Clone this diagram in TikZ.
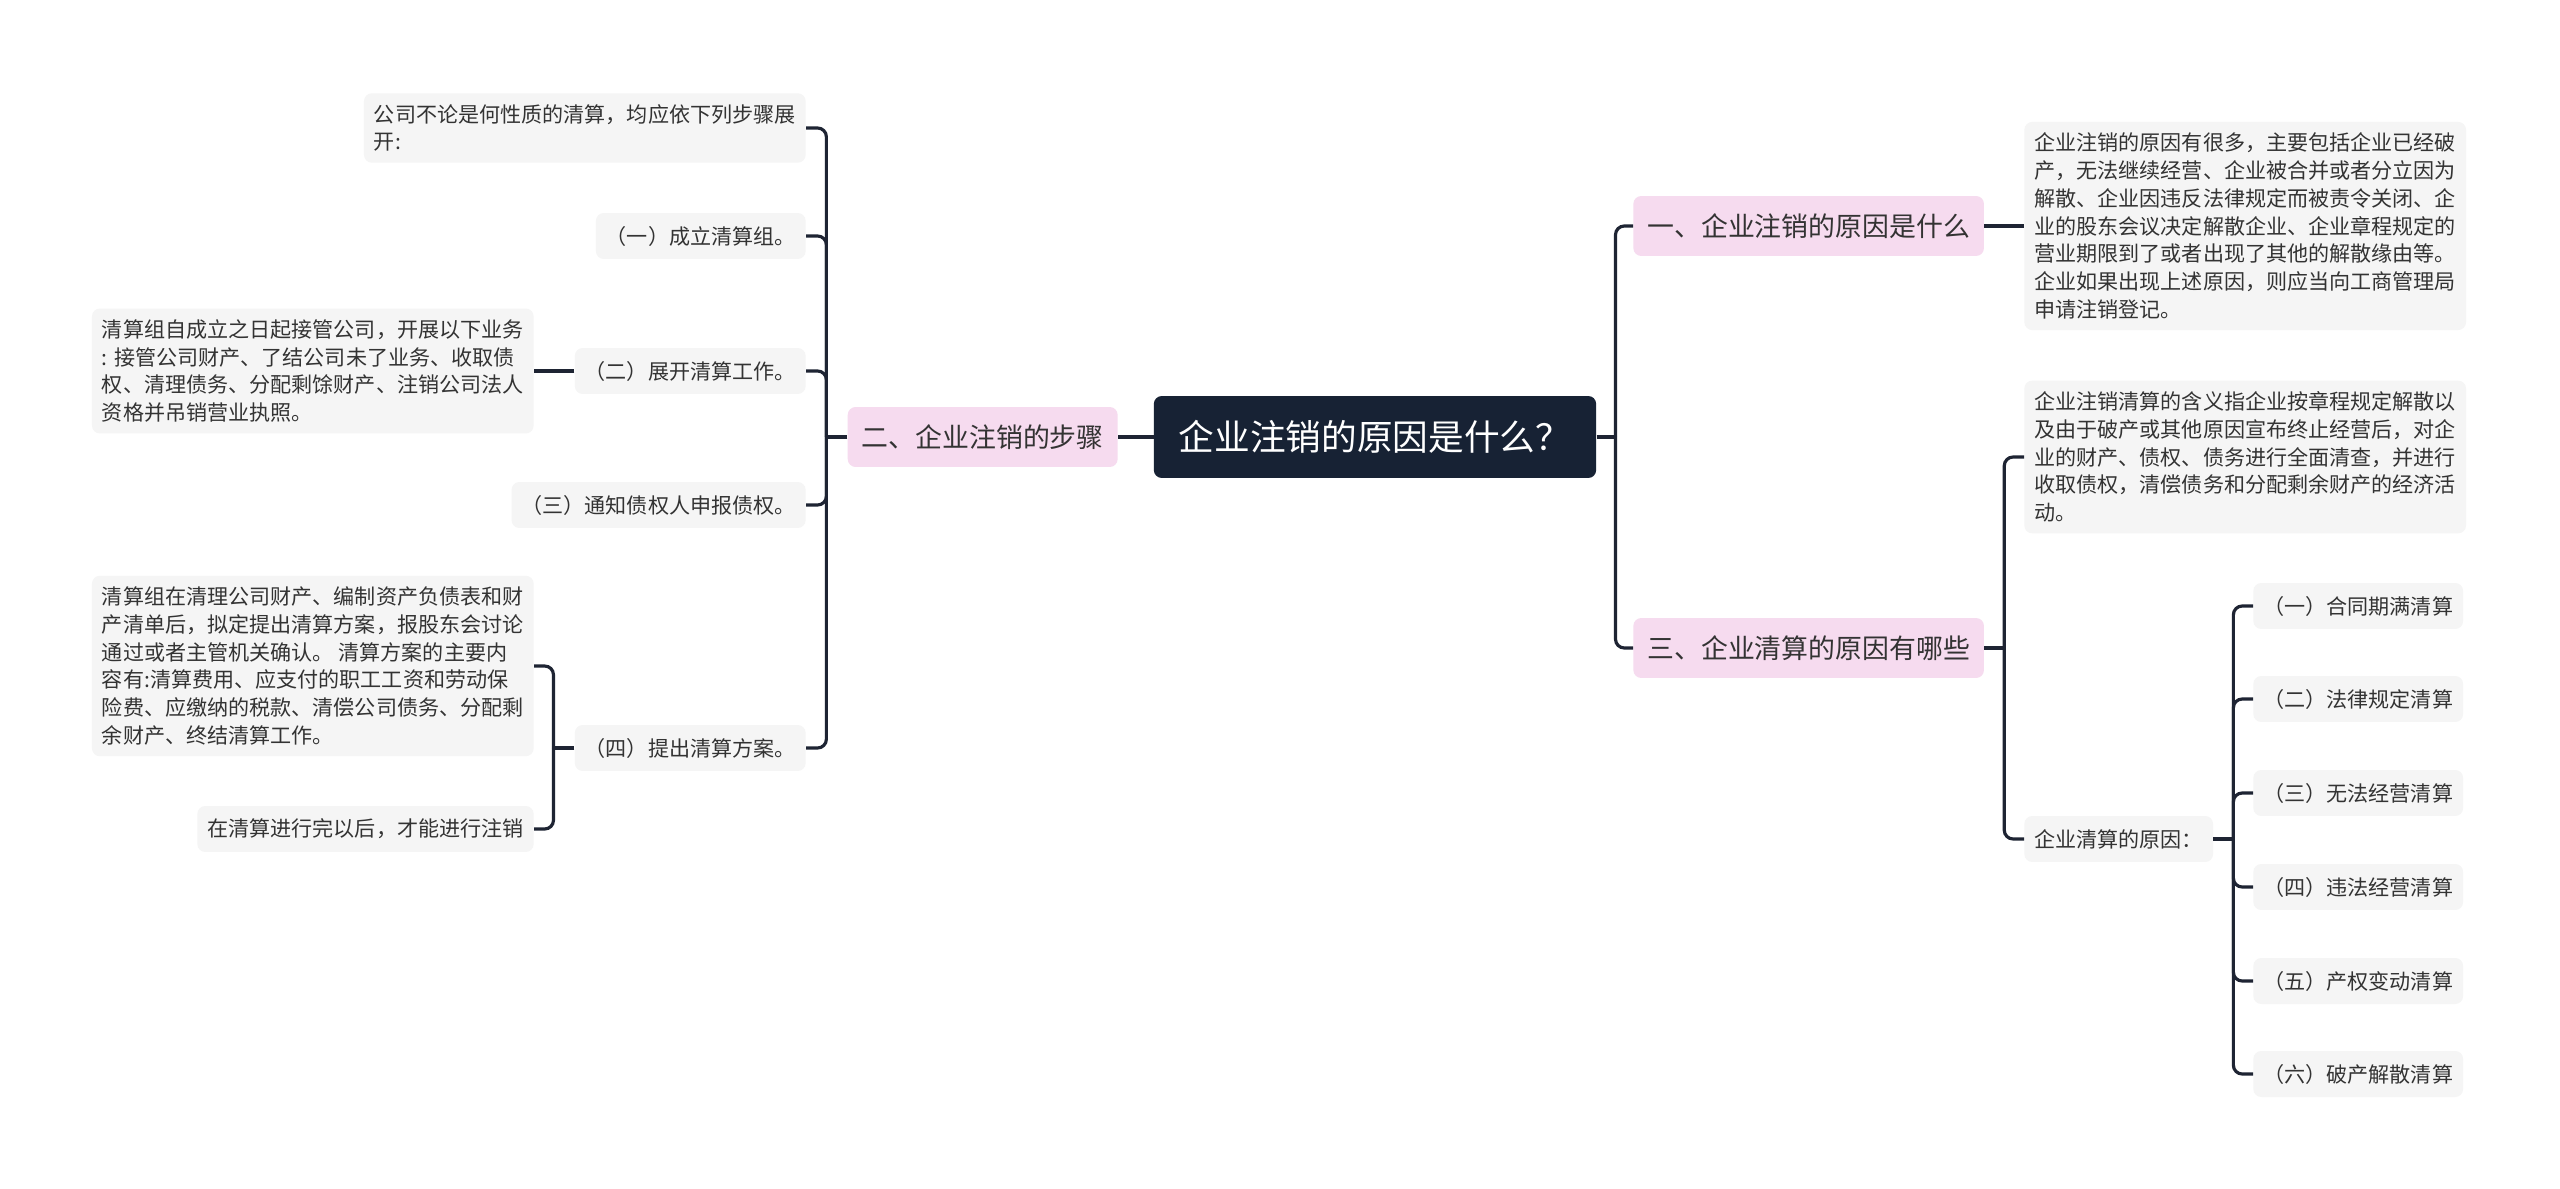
\documentclass[tikz,border=0pt]{standalone}
\usepackage{fontspec}
\setmainfont{Noto Sans CJK SC}
\usepackage{xcolor}
\usepackage{tikz}
\usetikzlibrary{positioning}
\definecolor{rootbg}{HTML}{172234}
\definecolor{topicbg}{HTML}{F6DBEF}
\definecolor{subbg}{HTML}{F5F5F5}
\definecolor{ink}{HTML}{333333}
\definecolor{wire}{HTML}{1E2433}
\tikzset{
  root/.style={rectangle, rounded corners=4.5pt, fill=rootbg, text=white,
               font=\fontsize{20.3}{24}\selectfont, minimum height=1.64cm, inner xsep=0.5cm},
  topic/.style={rectangle, rounded corners=4.5pt, fill=topicbg, text=ink,
                font=\fontsize{15.3}{19}\selectfont, minimum height=1.2cm, inner xsep=0.28cm},
  sub/.style={rectangle, rounded corners=4.5pt, fill=subbg, text=ink,
              font=\fontsize{12}{15.8}\selectfont, minimum height=0.92cm,
              inner xsep=0.2cm, inner ysep=0.22cm, align=left},
  edge/.style={draw=wire, line width=1.8pt, rounded corners=5pt}
}

\begin{document}
\begin{tikzpicture}[x=0.02cm, y=-0.02cm]
  \fill[white] (0,0) rectangle (2560,1189);
  \useasboundingbox (0,0) rectangle (2560,1189);
  % Centre
  \node[root] (main) at (1375,437) {企业注销的原因是什么？};
  % Left branch
  \node[topic, anchor=east] (steps) at (1118,437) {二、企业注销的步骤};
  \node[sub, anchor=east] (s0) at (806,128) {公司不论是何性质的清算，均应依下列步骤展\\开:};
  \node[sub, anchor=east] (s1) at (806,236) {（一）成立清算组。};
  \node[sub, anchor=east] (s2) at (806,371) {（二）展开清算工作。};
  \node[sub, anchor=east] (s3) at (806,505) {（三）通知债权人申报债权。};
  \node[sub, anchor=east] (s4) at (806,748) {（四）提出清算方案。};
  \node[sub, anchor=east] (s2a) at (534,371) {清算组自成立之日起接管公司，开展以下业务\\: 接管公司财产、了结公司未了业务、收取债\\权、清理债务、分配剩馀财产、注销公司法人\\资格并吊销营业执照。};
  \node[sub, anchor=east] (s4a) at (534,666) {清算组在清理公司财产、编制资产负债表和财\\产清单后，拟定提出清算方案，报股东会讨论\\通过或者主管机关确认。 清算方案的主要内\\容有:清算费用、应支付的职工工资和劳动保\\险费、应缴纳的税款、清偿公司债务、分配剩\\余财产、终结清算工作。};
  \node[sub, anchor=east] (s4b) at (534,829) {在清算进行完以后，才能进行注销};
  % Right branch
  \node[topic, anchor=west] (why) at (1633,226) {一、企业注销的原因是什么};
  \node[topic, anchor=west] (liq) at (1633,648) {三、企业清算的原因有哪些};
  \node[sub, anchor=west] (whytxt) at (2024,226) {企业注销的原因有很多，主要包括企业已经破\\产，无法继续经营、企业被合并或者分立因为\\解散、企业因违反法律规定而被责令关闭、企\\业的股东会议决定解散企业、企业章程规定的\\营业期限到了或者出现了其他的解散缘由等。\\企业如果出现上述原因，则应当向工商管理局\\申请注销登记。};
  \node[sub, anchor=west] (liqtxt) at (2024,457) {企业注销清算的含义指企业按章程规定解散以\\及由于破产或其他原因宣布终止经营后，对企\\业的财产、债权、债务进行全面清查，并进行\\收取债权，清偿债务和分配剩余财产的经济活\\动。};
  \node[sub, anchor=west] (cause) at (2024,839) {企业清算的原因：};
  \node[sub, anchor=west] (c1) at (2253,606) {（一）合同期满清算};
  \node[sub, anchor=west] (c2) at (2253,699) {（二）法律规定清算};
  \node[sub, anchor=west] (c3) at (2253,793) {（三）无法经营清算};
  \node[sub, anchor=west] (c4) at (2253,887) {（四）违法经营清算};
  \node[sub, anchor=west] (c5) at (2253,981) {（五）产权变动清算};
  \node[sub, anchor=west] (c6) at (2253,1074) {（六）破产解散清算};
  % Connectors
  \draw[edge] (main.west) -- (steps.east);
  \draw[edge] (steps.west) -- ++(-21,0) coordinate (stepsT);
  \foreach \n in {s0,s1,s2,s3,s4} \draw[edge] (stepsT) |- (\n.east);
  \draw[edge] (s2.west) -- (s2a.east);
  \draw[edge] (s4.west) -- ++(-21,0) coordinate (s4T);
  \foreach \n in {s4a,s4b} \draw[edge] (s4T) |- (\n.east);
  \draw[edge] (main.east) -- ++(19,0) coordinate (mainT);
  \foreach \n in {why,liq} \draw[edge] (mainT) |- (\n.west);
  \draw[edge] (why.east) -- (whytxt.west);
  \draw[edge] (liq.east) -- ++(20,0) coordinate (liqT);
  \foreach \n in {liqtxt,cause} \draw[edge] (liqT) |- (\n.west);
  \draw[edge] (cause.east) -- ++(20,0) coordinate (causeT);
  \foreach \n in {c1,c2,c3,c4,c5,c6} \draw[edge] (causeT) |- (\n.west);
\end{tikzpicture}
\end{document}
